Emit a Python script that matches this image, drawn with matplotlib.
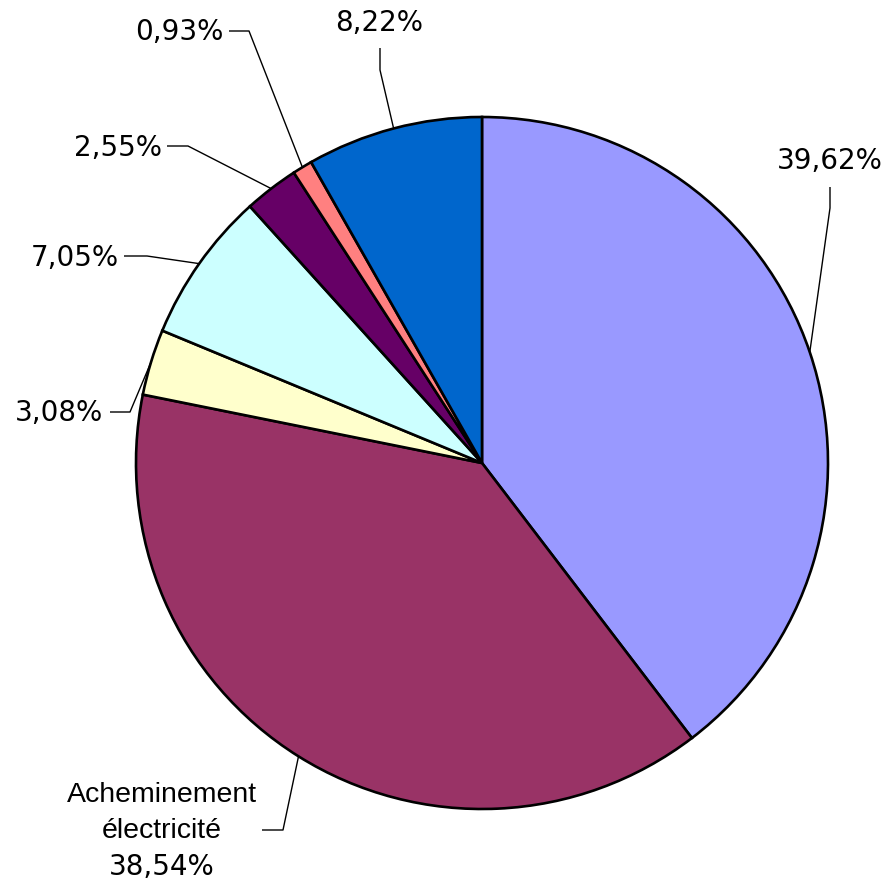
import numpy as np
import matplotlib
matplotlib.use("Agg")
import matplotlib.pyplot as plt

values = [39.62, 38.54, 3.08, 7.05, 2.55, 0.93, 8.22]
names = ["", "Acheminement\nélectricité", "", "", "", "", ""]
pct_labels = ["39,62%", "38,54%", "3,08%", "7,05%", "2,55%", "0,93%", "8,22%"]
colors = ["#9999FF", "#993366", "#FFFFCC", "#CCFFFF", "#660066", "#FF8080", "#0066CC"]

W, H = 887, 880
fig = plt.figure(figsize=(W / 100, H / 100), dpi=100)
ax = fig.add_axes([0, 0, 1, 1])

cx, cy, R = 482, H - 463, 346
wedges, _ = ax.pie(values, colors=colors, startangle=90, counterclock=False,
                   center=(cx, cy), radius=R, frame=True,
                   wedgeprops=dict(edgecolor="black", linewidth=1.9))
ax.set_xlim(0, W)
ax.set_ylim(0, H)
ax.set_aspect("equal")
ax.axis("off")

# layout: (elbow x, elbow y, end x, end y, text x, text y, ha) in pixel coords (y from top)
layout = [
    (830, 208, 830, 187, 830, 161, "center"),
    (283, 830, 262, 830, 162, 867, "center"),
    (130, 412, 110, 412, 103, 413, "right"),
    (147, 256, 124, 256, 119, 258, "right"),
    (188, 146, 167, 146, 162, 148, "right"),
    (249, 31, 229, 31, 224, 32, "right"),
    (380, 70, 380, 48, 379, 23, "center"),
]

total = sum(values)
cum = 0.0
for v, nm, lab, (ex, ey, fx, fy, tx, ty, ha) in zip(values, names, pct_labels, layout):
    mid = (cum + v / 2) / total * 360.0
    cum += v
    ang = np.deg2rad(90 - mid)
    px = cx + R * np.cos(ang)
    py = cy + R * np.sin(ang)
    ax.plot([px, ex, fx], [py, H - ey, H - fy], color="black", lw=1.0,
            solid_capstyle="butt", zorder=3)
    ax.text(tx, H - ty, lab, ha=ha, va="center", fontsize=20,
            family="DejaVu Sans", color="black")
    if nm:
        ax.text(tx, H - (ty - 54), nm, ha="center", va="center", fontsize=20.5,
                family="Liberation Sans", color="black", linespacing=1.55,
                multialignment="center")

fig.savefig("out.png", dpi=100)
